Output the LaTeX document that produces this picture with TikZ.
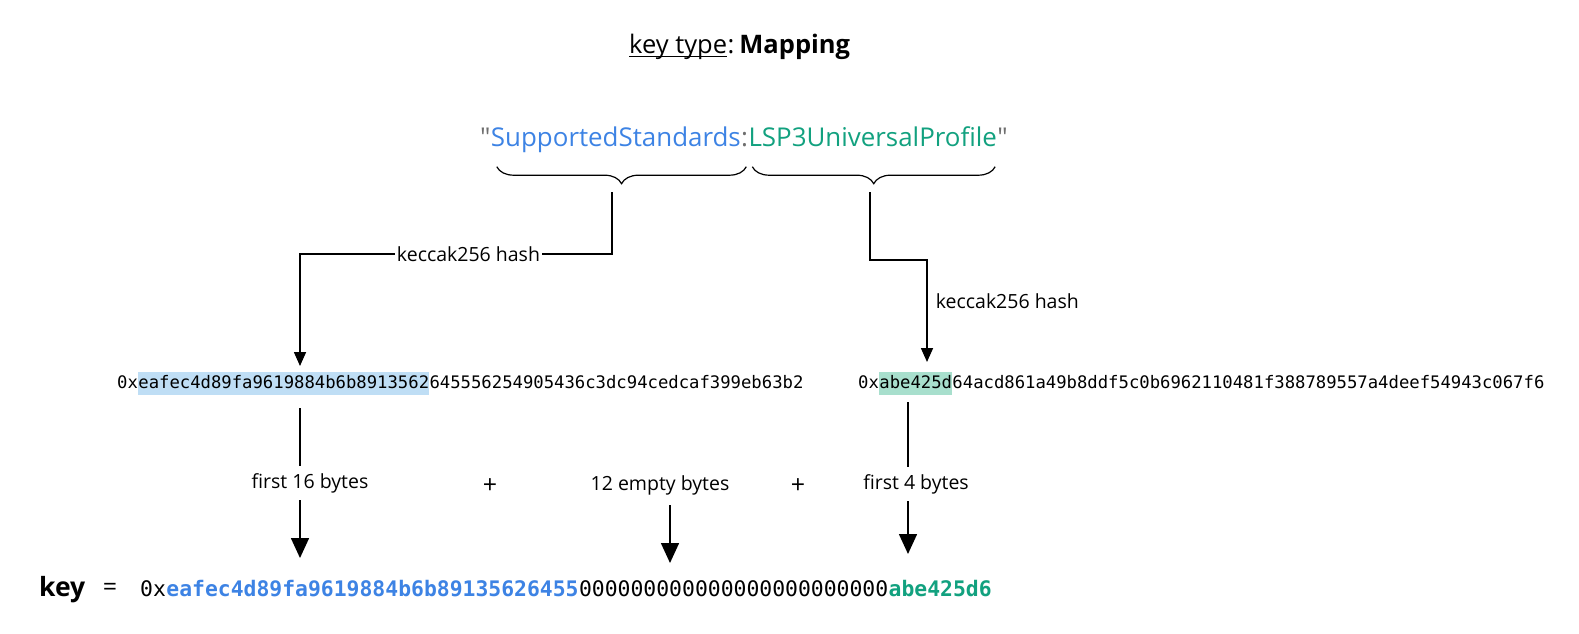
\documentclass[tikz,border=0pt]{standalone}
\usepackage{fontspec}
\setmainfont{Open Sans}[Ligatures=TeXOff]
\setmonofont{DejaVu Sans Mono}
\usetikzlibrary{positioning,arrows.meta,decorations.pathreplacing}
\definecolor{cstd}{HTML}{3D83E4}
\definecolor{clsp}{HTML}{12A17F}
\definecolor{hstd}{HTML}{BFDEF5}
\definecolor{hlsp}{HTML}{A8DFCD}
\definecolor{cquo}{HTML}{6E6E6E}
\tikzstyle{hex}=[inner xsep=0pt, inner ysep=1pt, text height=16pt, text depth=5pt, font=\fontsize{17.25}{20}\selectfont\ttfamily]
\tikzstyle{hexkey}=[inner xsep=0pt, inner ysep=0pt, text height=20pt, text depth=6pt, font=\fontsize{21.4}{24}\selectfont\ttfamily]
\tikzstyle{str}=[inner sep=0pt, text height=19pt, text depth=6pt, font=\fontsize{25.9}{30}\selectfont]
\tikzstyle{lbl}=[inner sep=2pt, font=\fontsize{19.5}{23}\selectfont]
\tikzstyle{op}=[inner sep=2pt, font=\fontsize{25}{28}\selectfont]
\tikzstyle{brc}=[line width=1.2pt, decorate, decoration={brace, mirror, amplitude=17pt}]
\tikzstyle{arrs}=[line width=1.6pt, -{Triangle[width=12pt,length=14pt]}]
\tikzstyle{arrb}=[line width=1.6pt, -{Triangle[width=18pt,length=20pt]}]

\begin{document}
\begin{tikzpicture}[x=1pt, y=-1pt]
\useasboundingbox (0,0) rectangle (1579,633);

\node[font=\fontsize{25.5}{30}\selectfont, anchor=base west, inner sep=0pt] (ktype) at (629,53) {key type};
\node[font=\fontsize{25.5}{30}\selectfont, anchor=base west, inner sep=0pt] (tmap) at (ktype.base east) {:\hspace{0.2em}\textbf{Mapping}};
\draw[line width=1pt] ([yshift=-3pt]ktype.base west) -- ([yshift=-3pt]ktype.base east);

% the string
\node[str, text=cquo, anchor=west] (q1) at (480,140) {"};
\node[str, text=cstd, right=0pt of q1] (std) {SupportedStandards};
\node[str, text=cquo, right=0pt of std] (col) {:};
\node[str, text=clsp, right=0pt of col] (lsp) {LSP3UniversalProfile};
\node[str, text=cquo, right=0pt of lsp] (q2) {"};

\draw[brc] ([xshift=6pt,yshift=-14pt]std.south west) -- ([xshift=-2pt,yshift=-14pt]col.south east);
\draw[brc] ([xshift=4pt,yshift=-14pt]lsp.south west) -- ([xshift=-2pt,yshift=-14pt]lsp.south east);

% the two hashes
\node[hex, anchor=west] (h1a) at (117,383) {0x};
\node[hex, fill=hstd, right=0pt of h1a] (h1b) {eafec4d89fa9619884b6b8913562};
\node[hex, right=0pt of h1b] (h1c) {645556254905436c3dc94cedcaf399eb63b2};

\node[hex, anchor=west] (h2a) at (858,383) {0x};
\node[hex, fill=hlsp, right=0pt of h2a] (h2b) {abe425d};
\node[hex, right=0pt of h2b] (h2c) {64acd861a49b8ddf5c0b6962110481f388789557a4deef54943c067f6};

\coordinate (bstd) at (612,192);
\coordinate (blsp) at (870,192);
\coordinate (k1) at (612,254);
\coordinate (k2) at (870,260);
\coordinate (a1) at (300,366);
\coordinate (a2) at (927,362);

\draw[arrs] (bstd) -- (k1) -| node[lbl, fill=white, pos=0.23] {keccak256 hash} (a1);
\draw[arrs] (blsp) -- (k2) -| node[lbl, right=6pt, pos=0.7] {keccak256 hash} (a2);

% bytes taken
\coordinate (t16) at (300,408);
\coordinate (e16) at (300,558);
\coordinate (s12) at (670,505);
\coordinate (e12) at (670,563);
\coordinate (t4) at (908,402);
\coordinate (e4) at (908,554);

\draw[arrb] (t16) -- node[lbl, fill=white, inner ysep=7pt, xshift=10pt, pos=0.5] {first 16 bytes} (e16);
\node[lbl] (emp) at (660,485) {12 empty bytes};
\draw[arrb] (s12) -- (e12);
\draw[arrb] (t4) -- node[lbl, fill=white, inner ysep=7pt, xshift=8pt, pos=0.54] {first 4 bytes} (e4);

\node[op] (p1) at (490,486) {+};
\node[op] (p2) at (798,486) {+};

% the key
\node[font=\fontsize{26.5}{30}\selectfont\bfseries, anchor=west, inner sep=0pt] (key) at (39,590) {key};
\node[op] (eq) at (110,589) {=};
\node[hexkey, anchor=west] (ky0) at (140,589) {0x};
\node[hexkey, text=cstd, right=0pt of ky0] (ky1) {\textbf{eafec4d89fa9619884b6b89135626455}};
\node[hexkey, right=0pt of ky1] (ky2) {000000000000000000000000};
\node[hexkey, text=clsp, right=0pt of ky2] (ky3) {\textbf{abe425d6}};

\end{tikzpicture}
\end{document}
